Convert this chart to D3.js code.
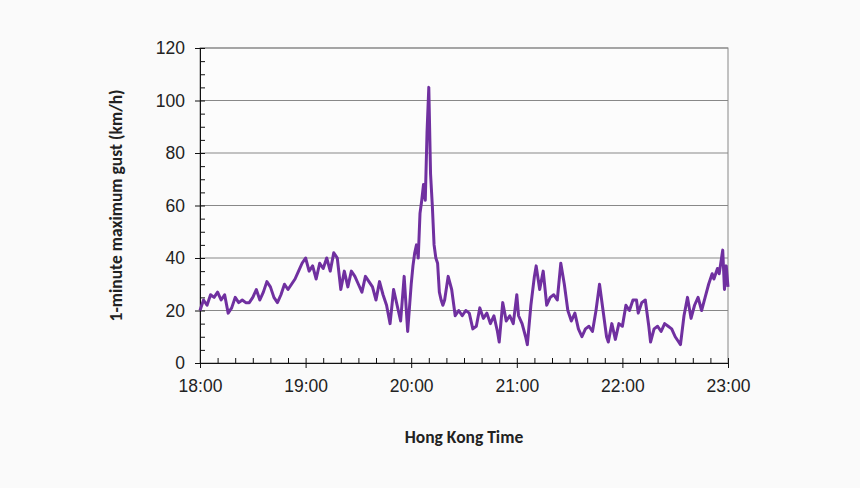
<!DOCTYPE html>
<html><head><meta charset="utf-8">
<script src="https://cdn.jsdelivr.net/npm/d3@7"></script>
<style>body{margin:0;background:#fafafa;font-family:Calibri,Carlito,"Open Sans",sans-serif;}</style>
</head><body><div class="chart"></div>
<script>
var width = 860, height = 488;
var margin = {left: 200, right: 132, top: 48, bottom: 125};

// gust every 2 minutes, 18:00-19:58
var gust18 = [20,24,22,26,25,27,24,26,19,21,25,23,24,23,23,25,28,24,27,31,29,25,23,26,30,28,30,32,35,38];
var gust19 = [40,35,37,32,38,36,40,35,42,40,28,35,29,35,33,30,27,33,31,29,24,31,26,22,15,28,22,16,33,12];
// [minute after 18:00, gust] from 20:00
var gustLate = [[120,30],[121,37],[122,42],[123,45],[124,40],[125,57],[126,62],[127,68],[128,62],[129,88],[130,105],[131,72],[132,60],[133,45],[134,40],[135,38],[136,27],[137,24],[138,22],[139,24],[141,33],[143,28],[145,18],[147,20],[149,18],[151,20],[153,19],[155,13],[157,14],[159,21],[161,17],[163,19],[165,15],[167,18],[169,12],[170,8],[172,23],[174,16],[176,18],[178,15],
[180,26],[181,18],[183,15],[185,10],[186,7],[188,22],[190,33],[191,37],[193,28],[195,35],[197,22],[199,25],[201,26],[203,24],[205,38],[207,30],[209,20],[211,16],[213,19],[215,13],[217,10],[219,13],[221,14],[223,12],[225,20],[227,30],[229,20],[231,10],[232,8],[234,15],[236,9],[238,15],[240,14],[242,22],[244,20],[246,24],[248,24],[249,19],[251,23],[253,24],[255,14],[256,8],[258,13],[260,14],[262,12],[264,15],[266,14],[268,13],[270,10],[272,8],[273,7],[275,18],[277,25],[279,17],[281,22],[283,25],[285,20],[287,25],[289,30],[291,34],[292,32],[294,36],[295,34],[297,43],[298,28],[299,37],[300,29]];
var xTickLabels = ["18:00","19:00","20:00","21:00","22:00","23:00"];
var yTicks = [0,20,40,60,80,100,120];

var data = gust18.map(function(v,i){ return [i*2, v]; })
  .concat(gust19.map(function(v,i){ return [60+i*2, v]; }))
  .concat(gustLate);

var svg = d3.select(".chart").append("svg").attr("width", width).attr("height", height);
var x = d3.scaleLinear().domain([0,300]).range([margin.left, width-margin.right]);
var y = d3.scaleLinear().domain([0,120]).range([height-margin.bottom, margin.top]);

svg.append("rect").attr("x", x(0)).attr("y", y(120)).attr("width", x(300)-x(0)).attr("height", y(0)-y(120))
  .attr("fill", "#fcfcfc").attr("stroke", "#888");

svg.selectAll(".grid").data(yTicks.slice(1)).enter().append("line")
  .attr("x1", x(0)).attr("x2", x(300)).attr("y1", function(d){return y(d);}).attr("y2", function(d){return y(d);})
  .attr("stroke", "#888").attr("stroke-width", 1.2);

// y axis
svg.append("g").attr("transform", "translate(" + x(0) + ",0)")
  .call(d3.axisLeft(y).tickValues(yTicks).tickSize(5).tickPadding(10));
svg.append("g").attr("transform", "translate(" + x(0) + ",0)")
  .call(d3.axisRight(y).tickValues(d3.range(0,121,5)).tickSize(5).tickFormat(""))
  .select(".domain").remove();
// x axis
svg.append("g").attr("transform", "translate(0," + y(0) + ")")
  .call(d3.axisBottom(x).tickValues([0,60,120,180,240,300]).tickFormat(function(d,i){return xTickLabels[i];}).tickSize(5).tickPadding(12));
svg.append("g").attr("transform", "translate(0," + y(0) + ")")
  .call(d3.axisTop(x).tickValues(d3.range(0,301,10)).tickSize(5).tickFormat(""))
  .select(".domain").remove();

svg.selectAll(".tick text").attr("font-size", 17.5).attr("fill", "#222");
svg.selectAll(".domain, .tick line").attr("stroke", "#111");

svg.append("path").datum(data)
  .attr("d", d3.line().x(function(d){return x(d[0]);}).y(function(d){return y(d[1]);}))
  .attr("fill", "none").attr("stroke", "#7030a0").attr("stroke-width", 3).attr("stroke-linejoin", "round");

svg.append("text").attr("x", (x(0)+x(300))/2).attr("y", 443).attr("text-anchor", "middle")
  .attr("font-size", 17.5).attr("font-weight", "bold").attr("fill", "#222").text("Hong Kong Time");
svg.append("text").attr("transform", "translate(122," + ((y(0)+y(120))/2) + ") rotate(-90)")
  .attr("text-anchor", "middle").attr("font-size", 17.5).attr("font-weight", "bold").attr("fill", "#222")
  .text("1-minute maximum gust (km/h)");
</script></body></html>
